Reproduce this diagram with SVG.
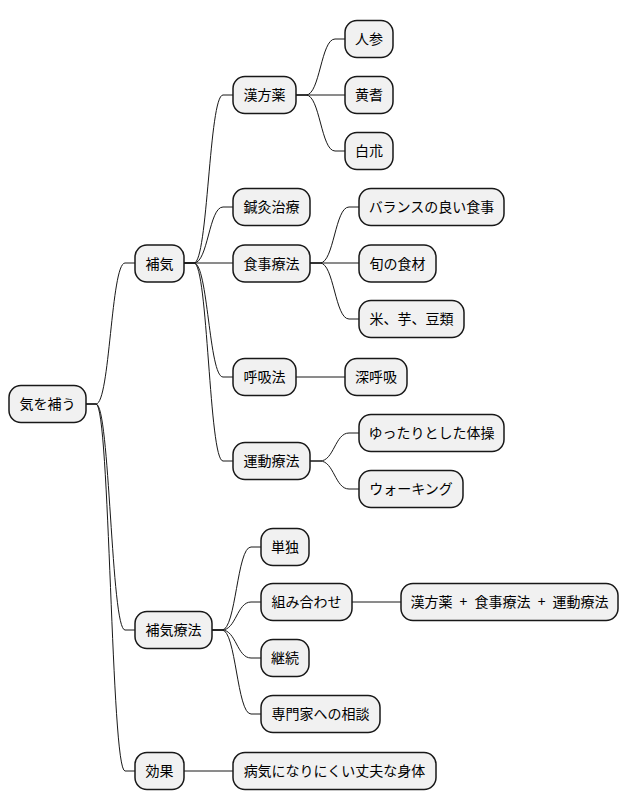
<svg xmlns="http://www.w3.org/2000/svg" width="628" height="809" viewBox="0 0 628 809">
<style>
.n rect{fill:#F1F1F1;stroke:#181818;stroke-width:1.5}
.n text{font-family:"Noto Sans CJK JP","Noto Sans",sans-serif;font-size:14px;fill:#000;text-anchor:middle}
#connectors path{fill:none;stroke:#181818;stroke-width:1}
</style>
<rect width="628" height="809" fill="#FFFFFF"/>
<g id="connectors">
<path d="M86,404 H96 C110,404 111,263 125,263 H135"/>
<path d="M86,404 H96 C110,404 111,630 125,630 H135"/>
<path d="M86,404 H96 C110,404 111,771 125,771 H135"/>
<path d="M184,263 H194 C208,263 209,95 223,95 H233"/>
<path d="M184,263 H194 C208,263 209,207 223,207 H233"/>
<path d="M184,263 H233"/>
<path d="M184,263 H194 C208,263 209,377 223,377 H233"/>
<path d="M184,263 H194 C208,263 209,461 223,461 H233"/>
<path d="M296,95 H306 C320,95 321,39 335,39 H345"/>
<path d="M296,95 H345"/>
<path d="M296,95 H306 C320,95 321,151 335,151 H345"/>
<path d="M310,263 H320 C334,263 335,207 349,207 H359"/>
<path d="M310,263 H359"/>
<path d="M310,263 H320 C334,263 335,319 349,319 H359"/>
<path d="M296,377 H345"/>
<path d="M310,461 H320 C334,461 335,433 349,433 H359"/>
<path d="M310,461 H320 C334,461 335,489 349,489 H359"/>
<path d="M212,630 H222 C236,630 237,547 251,547 H261"/>
<path d="M212,630 H222 C236,630 237,602 251,602 H261"/>
<path d="M212,630 H222 C236,630 237,658 251,658 H261"/>
<path d="M212,630 H222 C236,630 237,714 251,714 H261"/>
<path d="M352,602 H401"/>
<path d="M184,771 H233"/>
</g>
<g id="root" class="n"><rect x="9" y="385.5" width="77" height="37" rx="12"/><text x="47.5" y="409">気を補う</text></g>
<g id="hoki" class="n"><rect x="135" y="245" width="49" height="37" rx="12"/><text x="159.5" y="268.5">補気</text></g>
<g id="hoki-ryoho" class="n"><rect x="135" y="611.5" width="77" height="37" rx="12"/><text x="173.5" y="635">補気療法</text></g>
<g id="koka" class="n"><rect x="135" y="752.5" width="49" height="37" rx="12"/><text x="159.5" y="776">効果</text></g>
<g id="kampo" class="n"><rect x="233" y="76.5" width="63" height="37" rx="12"/><text x="264.5" y="100">漢方薬</text></g>
<g id="shinkyu" class="n"><rect x="233" y="188.5" width="77" height="37" rx="12"/><text x="271.5" y="212">鍼灸治療</text></g>
<g id="shokuji" class="n"><rect x="233" y="245" width="77" height="37" rx="12"/><text x="271.5" y="268.5">食事療法</text></g>
<g id="kokyu" class="n"><rect x="233" y="358.5" width="63" height="37" rx="12"/><text x="264.5" y="382">呼吸法</text></g>
<g id="undo" class="n"><rect x="233" y="442.5" width="77" height="37" rx="12"/><text x="271.5" y="466">運動療法</text></g>
<g id="ninjin" class="n"><rect x="345" y="20.5" width="48" height="37" rx="12"/><text x="369" y="44">人参</text></g>
<g id="ogi" class="n"><rect x="345" y="76.5" width="48" height="37" rx="12"/><text x="369" y="100">黄耆</text></g>
<g id="byakujutsu" class="n"><rect x="345" y="132.5" width="48" height="37" rx="12"/><text x="369" y="156">白朮</text></g>
<g id="balance" class="n"><rect x="359" y="188.5" width="145" height="37" rx="12"/><text x="431.5" y="212">バランスの良い食事</text></g>
<g id="shun" class="n"><rect x="359" y="245" width="77" height="37" rx="12"/><text x="397.5" y="268.5">旬の食材</text></g>
<g id="kome" class="n"><rect x="359" y="300.5" width="105" height="37" rx="12"/><text x="411.5" y="324">米、芋、豆類</text></g>
<g id="shinkokyu" class="n"><rect x="345" y="358.5" width="62" height="37" rx="12"/><text x="376" y="382">深呼吸</text></g>
<g id="taiso" class="n"><rect x="359" y="414.5" width="145" height="37" rx="12"/><text x="431.5" y="438">ゆったりとした体操</text></g>
<g id="walking" class="n"><rect x="359" y="470.5" width="104" height="37" rx="12"/><text x="411" y="494">ウォーキング</text></g>
<g id="tandoku" class="n"><rect x="261" y="528.5" width="48" height="37" rx="12"/><text x="285" y="552">単独</text></g>
<g id="kumiawase" class="n"><rect x="261" y="583.5" width="91" height="37" rx="12"/><text x="306.5" y="607">組み合わせ</text></g>
<g id="combo" class="n"><rect x="401" y="583.5" width="217" height="37" rx="12"/><text x="509.5" y="607" xml:space="preserve" word-spacing="4">漢方薬 + 食事療法 + 運動療法</text></g>
<g id="keizoku" class="n"><rect x="261" y="639.5" width="48" height="37" rx="12"/><text x="285" y="663">継続</text></g>
<g id="senmonka" class="n"><rect x="261" y="695.5" width="119" height="37" rx="12"/><text x="320.5" y="719">専門家への相談</text></g>
<g id="jobu" class="n"><rect x="233" y="752.5" width="203" height="37" rx="12"/><text x="334.5" y="776">病気になりにくい丈夫な身体</text></g>
</svg>
